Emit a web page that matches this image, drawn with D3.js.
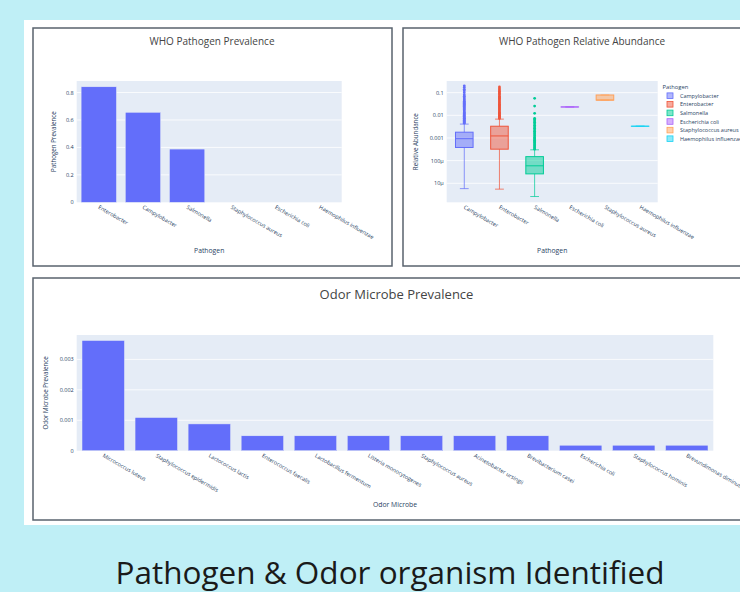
<!DOCTYPE html>
<html lang="en">
<head>
<meta charset="UTF-8">
<title>Pathogen & Odor organism Identified</title>
<script src="https://cdn.jsdelivr.net/npm/d3@7"></script>
<style>
  body { margin: 0; background: #bfeff6; }
  svg { display: block; font-family: "Open Sans", sans-serif; }
</style>
</head>
<body>
<div id="app"></div>
<script>
// ---- data ----
var whoPathogens = ["Enterobacter", "Campylobacter", "Salmonella", "Staphylococcus aureus", "Escherichia coli", "Haemophilus influenzae"];
var whoPrevalence = [0.842, 0.656, 0.388, 0, 0, 0];
var prevTicks = [0, 0.2, 0.4, 0.6, 0.8];

var boxPathogens = ["Campylobacter", "Enterobacter", "Salmonella", "Escherichia coli", "Staphylococcus aureus", "Haemophilus influenzae"];
var boxLower  = [5.8e-6, 5.5e-6, 2.6e-6, 0.0234, 0.047, 0.0033];
var boxQ1     = [3.8e-4, 3.2e-4, 2.6e-5, 0.0234, 0.047, 0.0033];
var boxMedian = [9.3e-4, 1.23e-3, 5.9e-5, 0.0234, 0.047, 0.0033];
var boxQ3     = [1.8e-3, 3.3e-3, 1.5e-4, 0.0234, 0.079, 0.0033];
var boxUpper  = [4.1e-3, 6.8e-3, 3.0e-4, 0.0234, 0.079, 0.0033];
var campOutliers = [0.0045, 0.005, 0.0055, 0.006, 0.0065, 0.007, 0.0075, 0.008, 0.009, 0.01, 0.011, 0.012, 0.013, 0.014, 0.016, 0.018, 0.02, 0.022, 0.025, 0.028, 0.031, 0.034, 0.038, 0.042, 0.047, 0.053, 0.06, 0.07, 0.08, 0.1, 0.12, 0.14, 0.17, 0.2];
var enteroOutliers = [0.0072, 0.0078, 0.0085, 0.0092, 0.01, 0.011, 0.012, 0.013, 0.014, 0.016, 0.018, 0.02, 0.022, 0.025, 0.028, 0.031, 0.035, 0.039, 0.044, 0.05, 0.056, 0.063, 0.07, 0.08, 0.09, 0.1, 0.115, 0.13, 0.15, 0.18];
var salmOutliers = [0.00032, 0.00036, 0.0004, 0.00045, 0.0005, 0.00056, 0.00063, 0.0007, 0.0008, 0.0009, 0.001, 0.0011, 0.0013, 0.0015, 0.0017, 0.002, 0.0023, 0.0027, 0.0031, 0.0036, 0.0042, 0.0049, 0.0056, 0.0065, 0.0074, 0.0123, 0.0257, 0.056];
var boxOutliers = [campOutliers, enteroOutliers, salmOutliers, [], [], []];
var boxColors = ["#636efa", "#ef553b", "#00cc96", "#ab63fa", "#ffa15a", "#19d3f3"];
var logTicks = [0.1, 0.01, 0.001, 1e-4, 1e-5];
var logTickLabels = ["0.1", "0.01", "0.001", "100μ", "10μ"];

var odorMicrobes = ["Micrococcus luteus", "Staphylococcus epidermidis", "Lactococcus lactis", "Enterococcus faecalis", "Lactobacillus fermentum", "Listeria monocytogenes", "Staphylococcus aureus", "Acinetobacter ursingii", "Brevibacterium casei", "Escherichia coli", "Staphylococcus hominis", "Brevundimonas diminuta"];
var odorPrevalence = [0.00362, 0.00109, 0.00088, 0.00049, 0.00049, 0.00049, 0.00049, 0.00049, 0.00049, 0.00018, 0.00018, 0.00018];
var odorTicks = [0, 0.001, 0.002, 0.003];

// ---- page ----
var W = 740, H = 592;
var svg = d3.select("#app").append("svg").attr("width", W).attr("height", H);

svg.append("rect").attr("x", 24).attr("y", 20).attr("width", W - 24).attr("height", 505).attr("fill", "#fff");

var txt = "#2a3f5f";
var gridBg = "#e5ecf6";

function frame(x, y, w, h) {
    svg.append("rect").attr("x", x).attr("y", y).attr("width", w).attr("height", h)
        .attr("fill", "#fff").attr("stroke", "#59636e").attr("stroke-width", 1.5);
}

function title(text, x, y, size) {
    svg.append("text").attr("x", x).attr("y", y).attr("text-anchor", "middle")
        .attr("font-size", size).attr("fill", "#444").text(text);
}

function xLabels(g, x, cats, bottom) {
    g.selectAll("text.xl").data(cats).enter().append("text")
        .attr("class", "xl")
        .attr("font-size", 5.5).attr("fill", txt)
        .attr("transform", function (d) {
            return "translate(" + (x(d) + x.bandwidth() / 2 - 1) + "," + (bottom + 6) + ") rotate(30)";
        })
        .text(function (d) { return d; });
}

function axisTitles(g, xt, yt, left, right, top, bottom, xtY, ytX) {
    g.append("text").attr("x", (left + right) / 2).attr("y", xtY).attr("text-anchor", "middle")
        .attr("font-size", 6.8).attr("fill", txt).text(xt);
    g.append("text").attr("transform", "translate(" + ytX + "," + (top + bottom) / 2 + ") rotate(-90)")
        .attr("text-anchor", "middle").attr("font-size", 6.2).attr("fill", txt).text(yt);
}

// ---- panel 1: WHO Pathogen Prevalence ----
(function () {
    frame(33, 28, 359, 238);
    title("WHO Pathogen Prevalence", 212, 45, 10);
    var L = 76.7, R = 341.7, T = 81, B = 202.3;
    var g = svg.append("g");
    var x = d3.scaleBand().domain(whoPathogens).range([L, R]).paddingInner(0.2).paddingOuter(0.1);
    var y = d3.scaleLinear().domain([0, d3.max(whoPrevalence) * 1.05]).range([B, T]);
    g.append("rect").attr("x", L).attr("y", T).attr("width", R - L).attr("height", B - T).attr("fill", gridBg);
    g.selectAll("line.gr").data(prevTicks.slice(1)).enter().append("line")
        .attr("x1", L).attr("x2", R).attr("y1", function (d) { return y(d); }).attr("y2", function (d) { return y(d); })
        .attr("stroke", "#fff").attr("stroke-width", 0.8);
    g.selectAll("text.yl").data(prevTicks).enter().append("text")
        .attr("x", L - 3).attr("y", function (d) { return y(d) + 2; }).attr("text-anchor", "end")
        .attr("font-size", 5.5).attr("fill", txt).text(function (d) { return d === 0 ? "0" : d3.format(".1f")(d); });
    g.selectAll("rect.bar").data(whoPathogens).enter().append("rect")
        .attr("x", function (d) { return x(d); }).attr("width", x.bandwidth())
        .attr("y", function (d, i) { return y(whoPrevalence[i]); })
        .attr("height", function (d, i) { return B - y(whoPrevalence[i]); })
        .attr("fill", "#636efa").attr("stroke", "#e5ecf6").attr("stroke-width", 0.5);
    xLabels(g, x, whoPathogens, B);
    axisTitles(g, "Pathogen", "Pathogen Prevalence", L, R, T, B, 253, 56);
})();

// ---- panel 2: WHO Pathogen Relative Abundance ----
(function () {
    frame(403, 28, 360, 238);
    title("WHO Pathogen Relative Abundance", 582, 45, 10);
    var L = 446.7, R = 657.7, T = 81, B = 202.3;
    var g = svg.append("g");
    var x = d3.scaleBand().domain(boxPathogens).range([L, R]);
    var y = d3.scaleLog().domain([Math.pow(10, -5.84), Math.pow(10, -0.485)]).range([B, T]);
    g.append("rect").attr("x", L).attr("y", T).attr("width", R - L).attr("height", B - T).attr("fill", gridBg);
    g.selectAll("line.gr").data(logTicks).enter().append("line")
        .attr("x1", L).attr("x2", R).attr("y1", function (d) { return y(d); }).attr("y2", function (d) { return y(d); })
        .attr("stroke", "#fff").attr("stroke-width", 0.8);
    g.selectAll("text.yl").data(logTicks).enter().append("text")
        .attr("x", L - 3).attr("y", function (d) { return y(d) + 2; }).attr("text-anchor", "end")
        .attr("font-size", 5.5).attr("fill", txt).text(function (d, i) { return logTickLabels[i]; });

    boxPathogens.forEach(function (p, i) {
        var c = boxColors[i];
        var cx = x(p) + x.bandwidth() / 2;
        var w = x.bandwidth() * 0.5;
        var bg = g.append("g");
        bg.append("line").attr("x1", cx).attr("x2", cx).attr("y1", y(boxQ1[i])).attr("y2", y(boxLower[i]))
            .attr("stroke", c).attr("stroke-width", 0.9).attr("stroke-opacity", 0.8);
        bg.append("line").attr("x1", cx).attr("x2", cx).attr("y1", y(boxQ3[i])).attr("y2", y(boxUpper[i]))
            .attr("stroke", c).attr("stroke-width", 0.9).attr("stroke-opacity", 0.8);
        [boxLower[i], boxUpper[i]].forEach(function (v) {
            bg.append("line").attr("x1", cx - w / 4).attr("x2", cx + w / 4).attr("y1", y(v)).attr("y2", y(v))
                .attr("stroke", c).attr("stroke-width", 0.9).attr("stroke-opacity", 0.8);
        });
        var top = y(boxQ3[i]), bot = y(boxQ1[i]);
        bg.append("rect").attr("x", cx - w / 2).attr("width", w)
            .attr("y", top).attr("height", Math.max(bot - top, 0.01))
            .attr("fill", c).attr("fill-opacity", 0.5).attr("stroke", c).attr("stroke-width", 1);
        bg.append("line").attr("x1", cx - w / 2).attr("x2", cx + w / 2)
            .attr("y1", y(boxMedian[i])).attr("y2", y(boxMedian[i])).attr("stroke", c).attr("stroke-width", 1);
        bg.selectAll("circle").data(boxOutliers[i]).enter().append("circle")
            .attr("cx", cx).attr("cy", function (d) { return y(d); }).attr("r", 1.4)
            .attr("fill", c);
    });

    xLabels(g, x, boxPathogens, B);
    axisTitles(g, "Pathogen", "Relative Abundance", L, R, T, B, 253, 418);

    // legend
    var lg = g.append("g");
    lg.append("text").attr("x", 662.5).attr("y", 88.5).attr("font-size", 5.8).attr("fill", txt).text("Pathogen");
    boxPathogens.forEach(function (p, i) {
        var yy = 95.7 + i * 8.6;
        lg.append("rect").attr("x", 667).attr("y", yy - 2.8).attr("width", 6).attr("height", 5.6)
            .attr("fill", boxColors[i]).attr("fill-opacity", 0.5).attr("stroke", boxColors[i]).attr("stroke-width", 0.8);
        lg.append("text").attr("x", 680).attr("y", yy + 2).attr("font-size", 5.5).attr("fill", txt).text(p);
    });
})();

// ---- panel 3: Odor Microbe Prevalence ----
(function () {
    frame(33, 278, 727, 242);
    title("Odor Microbe Prevalence", 396.5, 299, 13);
    var L = 76.7, R = 713.3, T = 335, B = 450.7;
    var g = svg.append("g");
    var x = d3.scaleBand().domain(odorMicrobes).range([L, R]).paddingInner(0.2).paddingOuter(0.1);
    var y = d3.scaleLinear().domain([0, d3.max(odorPrevalence) * 1.05]).range([B, T]);
    g.append("rect").attr("x", L).attr("y", T).attr("width", R - L).attr("height", B - T).attr("fill", gridBg);
    g.selectAll("line.gr").data(odorTicks.slice(1)).enter().append("line")
        .attr("x1", L).attr("x2", R).attr("y1", function (d) { return y(d); }).attr("y2", function (d) { return y(d); })
        .attr("stroke", "#fff").attr("stroke-width", 0.8);
    g.selectAll("text.yl").data(odorTicks).enter().append("text")
        .attr("x", L - 3).attr("y", function (d) { return y(d) + 2; }).attr("text-anchor", "end")
        .attr("font-size", 5.5).attr("fill", txt).text(function (d) { return d === 0 ? "0" : d3.format(".3f")(d); });
    g.selectAll("rect.bar").data(odorMicrobes).enter().append("rect")
        .attr("x", function (d) { return x(d); }).attr("width", x.bandwidth())
        .attr("y", function (d, i) { return y(odorPrevalence[i]); })
        .attr("height", function (d, i) { return B - y(odorPrevalence[i]); })
        .attr("fill", "#636efa").attr("stroke", "#e5ecf6").attr("stroke-width", 0.5);
    xLabels(g, x, odorMicrobes, B);
    axisTitles(g, "Odor Microbe", "Odor Microbe Prevalence", L, R, T, B, 507, 48);
})();

// ---- caption ----
svg.append("text").attr("x", 390).attr("y", 584).attr("text-anchor", "middle")
    .attr("font-size", 31.5).attr("fill", "#1a1a1a").text("Pathogen & Odor organism Identified");
</script>
</body>
</html>
